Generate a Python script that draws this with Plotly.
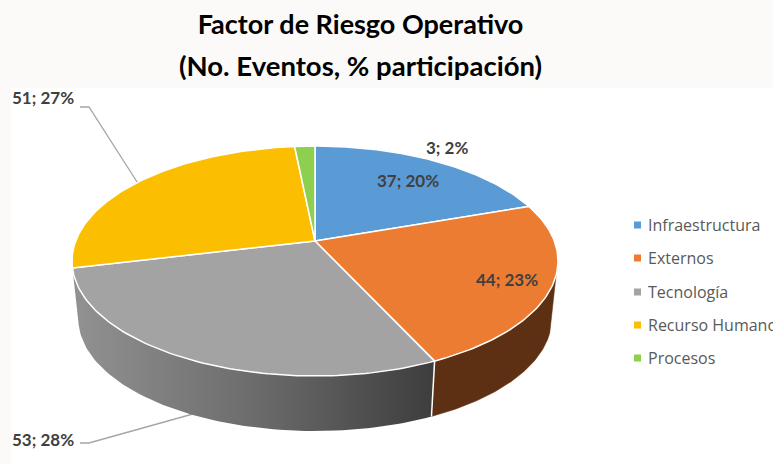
import numpy as np
import plotly.graph_objects as go

# ---- data ----
categories = ["Infraestructura", "Externos", "Tecnología", "Recurso Humano", "Procesos"]
events = [37, 44, 53, 51, 3]
colors = ["#5B9BD5", "#EB7C31", "#A3A3A3", "#FCBE00", "#8FCF50"]
title_lines = ["Factor de Riesgo Operativo", "(No. Eventos, % participación)"]

# ---- projection of the tilted pie (pixels) ----
CX, CY = 315.0, 241.0
A, B, K = 239.3, 111.5, 0.174      # top face
A2, B2, CY2 = 233.0, 108.7, 299.4  # bottom face


def top(theta):
    u, v = np.sin(theta), np.cos(theta)
    w = 1 + K * v
    return CX + A * u / w, CY - B * v / w


def bottom(theta):
    u, v = np.sin(theta), np.cos(theta)
    w = 1 + K * v
    return CX + A2 * u / w, CY2 - B2 * v / w


total = sum(events)
edges = np.concatenate([[0], np.cumsum(events)]) / total * 2 * np.pi

fig = go.Figure()


def wall(t0, t1, **style):
    th = np.linspace(t0, t1, 80)
    xa, ya = top(th)
    xb, yb = bottom(th[::-1])
    fig.add_trace(go.Scatter(
        x=np.concatenate([xa, xb, xa[:1]]), y=np.concatenate([ya, yb, ya[:1]]),
        mode="lines", fill="toself", showlegend=False, hoverinfo="skip", **style))


# leader lines, behind the pie
LEADER = "#A6A6A6"
for lx, ly in [([80, 89, 139], [107, 107, 185]), ([80, 89, 200], [443, 443, 412])]:
    fig.add_trace(go.Scatter(x=lx, y=ly, mode="lines", line=dict(color=LEADER, width=1.3),
                             showlegend=False, hoverinfo="skip"))

# side walls
WALL_START = np.deg2rad(107)
wall(WALL_START, edges[2], line=dict(color="#5E3013", width=0.5), fillcolor="#5E3013")
wall(edges[2], edges[3], line=dict(width=0),
     fillgradient=dict(type="horizontal",
                       colorscale=[[0, "#929292"], [0.5, "#6C6C6C"], [1, "#3D3D3D"]]))

# white seam between walls
sx0, sy0 = top(edges[2])
sx1, sy1 = bottom(edges[2])
fig.add_trace(go.Scatter(x=[sx0, sx1], y=[sy0, sy1], mode="lines",
                         line=dict(color="white", width=1.5), showlegend=False, hoverinfo="skip"))

# top faces
for i, name in enumerate(categories):
    th = np.linspace(edges[i], edges[i + 1], 90)
    xs, ys = top(th)
    fig.add_trace(go.Scatter(
        x=np.concatenate([[CX], xs, [CX]]), y=np.concatenate([[CY], ys, [CY]]),
        mode="lines", fill="toself", fillcolor=colors[i], name=name,
        line=dict(color="white", width=1.5), showlegend=False, hoverinfo="skip"))

annotations = []

# legend: swatch and text
legend_y = [225, 258, 292, 325, 358]
for name, col, ly in zip(categories, colors, legend_y):
    fig.add_trace(go.Scatter(x=[637.5], y=[ly], mode="markers", showlegend=False, hoverinfo="skip",
                             marker=dict(symbol="square", size=7, color=col)))
    annotations.append(dict(x=646, y=ly, xref="x", yref="y", xanchor="left", showarrow=False,
                            text=name, align="left",
                            font=dict(family="Open Sans", size=16, color="#595959")))

# data labels
label_xy = [(408, 180), (507, 279), (43, 439), (43, 97), (447, 147)]
for (lx, ly), v in zip(label_xy, events):
    annotations.append(dict(x=lx, y=ly, xref="x", yref="y", showarrow=False,
                            text=f"{v}; {round(v / total * 100)}%",
                            font=dict(family="Lato", size=17, color="#404040", weight="bold")))
annotations.append(dict(x=360.5, y=65, xref="x", yref="y", showarrow=False, text=title_lines[1],
                        font=dict(family="Lato", size=27.5, color="#000000", weight="bold")))

fig.update_layout(
    width=773, height=464,
    margin=dict(l=0, r=0, t=0, b=0, autoexpand=False),
    paper_bgcolor="#FBFAF8", plot_bgcolor="rgba(0,0,0,0)",
    title=dict(text=title_lines[0], x=360.5 / 773, xanchor="center", y=1 - 25 / 464, yanchor="middle",
               font=dict(family="Lato", size=27, color="#000000", weight="bold")),
    xaxis=dict(range=[0, 773], visible=False, fixedrange=True),
    yaxis=dict(range=[464, 0], visible=False, fixedrange=True),
    shapes=[dict(type="rect", xref="x", yref="y", x0=11, x1=773, y0=88, y1=464,
                 fillcolor="white", line=dict(width=0), layer="below")],
    annotations=annotations,
    showlegend=False,
)

fig.write_html("out.html", config=dict(displayModeBar=False),
               post_script="document.body.style.margin='0';document.body.style.overflow='hidden';")
